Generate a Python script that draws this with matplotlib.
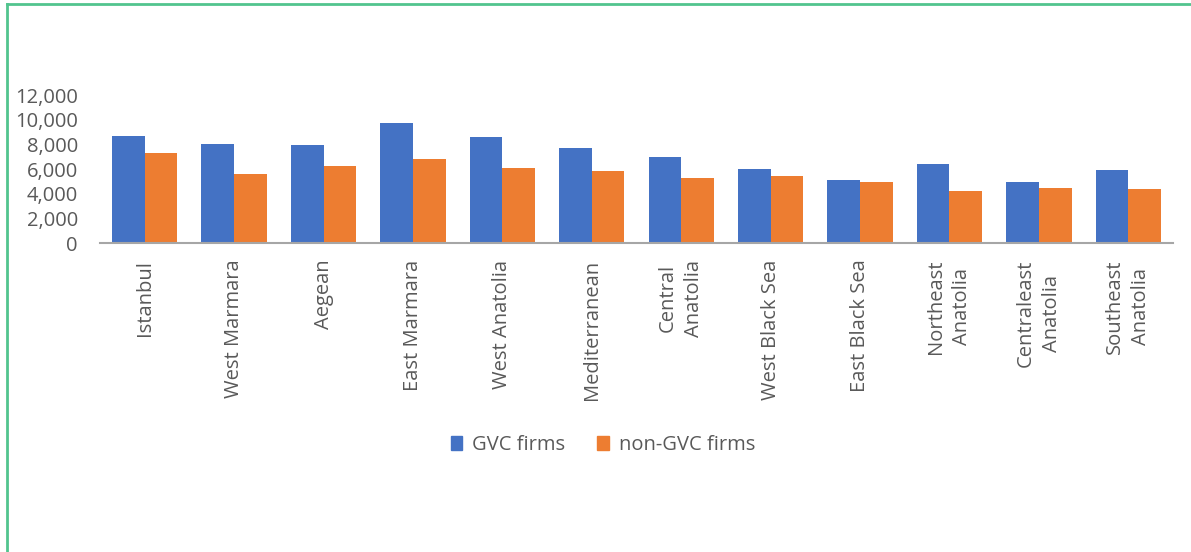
import matplotlib
matplotlib.use("Agg")
import matplotlib.pyplot as plt
import numpy as np
from matplotlib.ticker import FuncFormatter
from matplotlib.lines import Line2D
from matplotlib.patches import Patch

categories = ["Istanbul", "West Marmara", "Aegean", "East Marmara", "West Anatolia",
              "Mediterranean", "Central\nAnatolia", "West Black Sea", "East Black Sea",
              "Northeast\nAnatolia", "Centraleast\nAnatolia", "Southeast\nAnatolia"]
gvc = [8700, 8000, 7950, 9700, 8600, 7700, 6950, 6000, 5110, 6430, 4920, 5920]
non_gvc = [7270, 5620, 6270, 6790, 6060, 5810, 5300, 5460, 4920, 4220, 4430, 4380]
yticks = [0, 2000, 4000, 6000, 8000, 10000, 12000]

plt.rcParams['font.family'] = ['Open Sans', 'DejaVu Sans']
W, H = 1191, 552
fig = plt.figure(figsize=(W/100, H/100), dpi=100)

ax = fig.add_axes([100/W, 1-243/H, (1173-100)/W, (243-95)/H])
x = np.arange(len(categories))
bw = 0.365
blue = "#4472C4"
orange = "#ED7D31"
ax.bar(x - bw/2, gvc, bw, color=blue, label="GVC firms")
ax.bar(x + bw/2, non_gvc, bw, color=orange, label="non-GVC firms")
ax.set_xlim(-0.5, len(categories)-0.5)
ax.set_ylim(0, 12000)
ax.set_yticks(yticks)
ax.yaxis.set_major_formatter(FuncFormatter(lambda v, p: f"{int(v):,}"))
ax.tick_params(axis='y', length=0, pad=16, labelsize=14.5, labelcolor="#595959")
ax.set_xticks(x)
ax.set_xticklabels(categories, rotation=90, ha='center', va='top', multialignment='center',
                   linespacing=1.4)
ax.tick_params(axis='x', length=0, pad=12, labelsize=14.5, labelcolor="#595959")
for s in ['top', 'right', 'left']:
    ax.spines[s].set_visible(False)
ax.spines['bottom'].set_color("#A6A6A6")
ax.spines['bottom'].set_linewidth(1.5)

handles = [Patch(color=blue), Patch(color=orange)]
fig.legend(handles, ["GVC firms", "non-GVC firms"], loc='center', bbox_to_anchor=(603/W, 1-445/H),
           ncol=2, frameon=False, fontsize=14.5, labelcolor="#595959",
           handlelength=0.55, handleheight=0.7, handletextpad=0.5, columnspacing=1.6)

# green border (top and left)
green = "#52C48E"
fig.add_artist(Line2D([7/W, 7/W], [0, 1-4/H], color=green, lw=2.0, transform=fig.transFigure))
fig.add_artist(Line2D([7/W, 1], [1-4/H, 1-4/H], color=green, lw=2.0, transform=fig.transFigure))

fig.savefig("out.png", dpi=100, facecolor="white")
